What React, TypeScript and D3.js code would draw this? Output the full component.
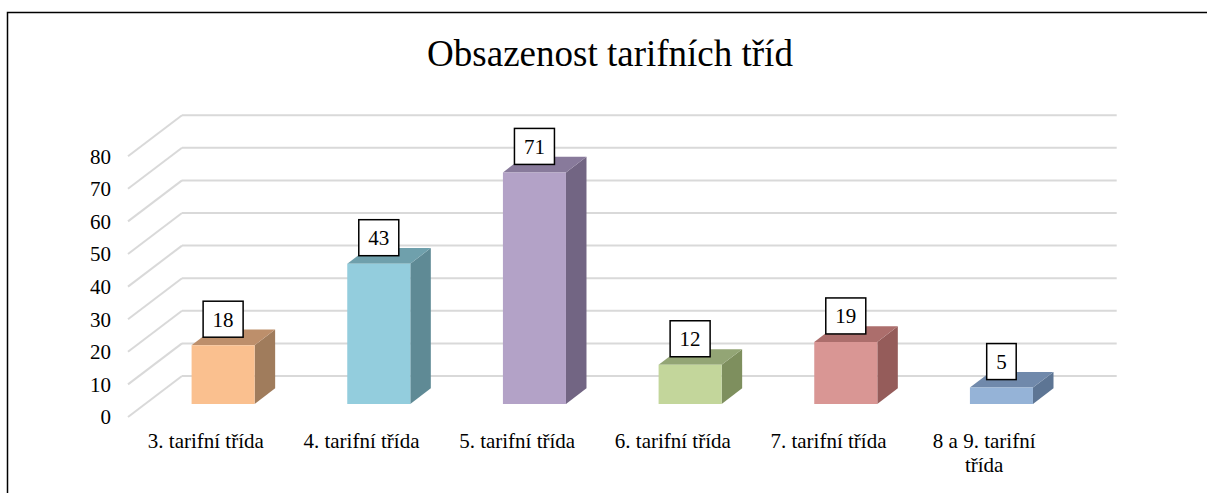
import * as d3 from "d3";

const categories = [
  ["3. tarifní třída"],
  ["4. tarifní třída"],
  ["5. tarifní třída"],
  ["6. tarifní třída"],
  ["7. tarifní třída"],
  ["8 a 9. tarifní", "třída"],
];
const values = [18, 43, 71, 12, 19, 5];
const yTicks = [0, 10, 20, 30, 40, 50, 60, 70, 80];
const title = "Obsazenost tarifních tříd";

const colors = [
  { front: "#fac08f", side: "#a07c5c", top: "#bd8f6b" },
  { front: "#93cddd", side: "#5f8a95", top: "#6fa0ac" },
  { front: "#b3a2c7", side: "#726583", top: "#887a9b" },
  { front: "#c3d69b", side: "#7e8f5e", top: "#93a575" },
  { front: "#d99694", side: "#955c5a", top: "#ac6e6c" },
  { front: "#95b3d7", side: "#5d7594", top: "#7089ab" },
];

const W = 1207;
const H = 493;
const font = "'Liberation Serif', 'Times New Roman', serif";

// front plane of the 3D box and depth vector
const x0 = 128;
const x1 = 1062;
const depthX = 54;
const depthY = -41;
const dFront = 0.32;
const dBack = 0.7;

export default function App() {
  const x = d3
    .scaleBand<number>()
    .domain(d3.range(categories.length))
    .range([x0, x1])
    .padding(0);
  const y = d3.scaleLinear().domain([0, 80]).range([417, 156.2]);
  const barW = x.bandwidth() * 0.405;

  const pt = (cx: number, v: number, d: number): [number, number] => [
    cx + d * depthX,
    y(v) + d * depthY,
  ];
  const poly = (pts: [number, number][]) =>
    pts.map((p) => p.join(",")).join(" ");

  return (
    <svg
      width={W}
      height={H}
      style={{ position: "absolute", left: 0, top: 0, background: "#fff" }}
      fontFamily={font}
    >
      <rect x={0} y={0} width={W} height={H} fill="#fff" />
      <rect
        x={7.5}
        y={12.5}
        width={W + 20}
        height={H + 20}
        fill="none"
        stroke="#000"
        strokeWidth={1.5}
      />
      <text x={610} y={66} textAnchor="middle" fontSize={37} fill="#000">
        {title}
      </text>

      {/* grid: floor/wall lines */}
      {yTicks.map((t) => {
        const yf = y(t);
        return (
          <g key={t} stroke="#d9d9d9" strokeWidth={2} fill="none">
            <line x1={x0} y1={yf} x2={x0 + depthX} y2={yf + depthY} />
            <line
              x1={x0 + depthX}
              y1={yf + depthY}
              x2={x1 + depthX + 0.7}
              y2={yf + depthY}
            />
          </g>
        );
      })}

      {/* y tick labels */}
      {yTicks.map((t) => (
        <text
          key={t}
          x={111}
          y={y(t)}
          dy="0.35em"
          textAnchor="end"
          fontSize={21}
          fill="#000"
        >
          {t}
        </text>
      ))}

      {/* bars */}
      {values.map((v, i) => {
        const c = colors[i];
        const left = (x(i) as number) + x.bandwidth() / 2 - barW / 2;
        const right = left + barW;
        const fbl = pt(left, 0, dFront);
        const fbr = pt(right, 0, dFront);
        const ftl = pt(left, v, dFront);
        const ftr = pt(right, v, dFront);
        const bbr = pt(right, 0, dBack);
        const btl = pt(left, v, dBack);
        const btr = pt(right, v, dBack);
        return (
          <g key={i}>
            <polygon points={poly([fbr, bbr, btr, ftr])} fill={c.side} />
            <polygon points={poly([ftl, ftr, btr, btl])} fill={c.top} />
            <polygon points={poly([fbl, fbr, ftr, ftl])} fill={c.front} />
          </g>
        );
      })}

      {/* data labels */}
      {values.map((v, i) => {
        const cx = (x(i) as number) + x.bandwidth() / 2 + dFront * depthX;
        const bottom = y(v) + dFront * depthY - 8;
        const txt = String(v);
        const bw = txt.length * 10.5 + 19;
        return (
          <g key={i}>
            <rect
              x={cx - bw / 2}
              y={bottom - 36}
              width={bw}
              height={36}
              fill="#fff"
              stroke="#000"
              strokeWidth={1.5}
            />
            <text
              x={cx}
              y={bottom - 18}
              dy="0.35em"
              textAnchor="middle"
              fontSize={21}
              fill="#000"
            >
              {txt}
            </text>
          </g>
        );
      })}

      {/* category labels */}
      {categories.map((lines, i) => (
        <text
          key={i}
          x={(x(i) as number) + x.bandwidth() / 2}
          y={448}
          textAnchor="middle"
          fontSize={21}
          fill="#000"
        >
          {lines.map((l, j) => (
            <tspan key={j} x={(x(i) as number) + x.bandwidth() / 2} dy={j === 0 ? 0 : 24}>
              {l}
            </tspan>
          ))}
        </text>
      ))}
    </svg>
  );
}
